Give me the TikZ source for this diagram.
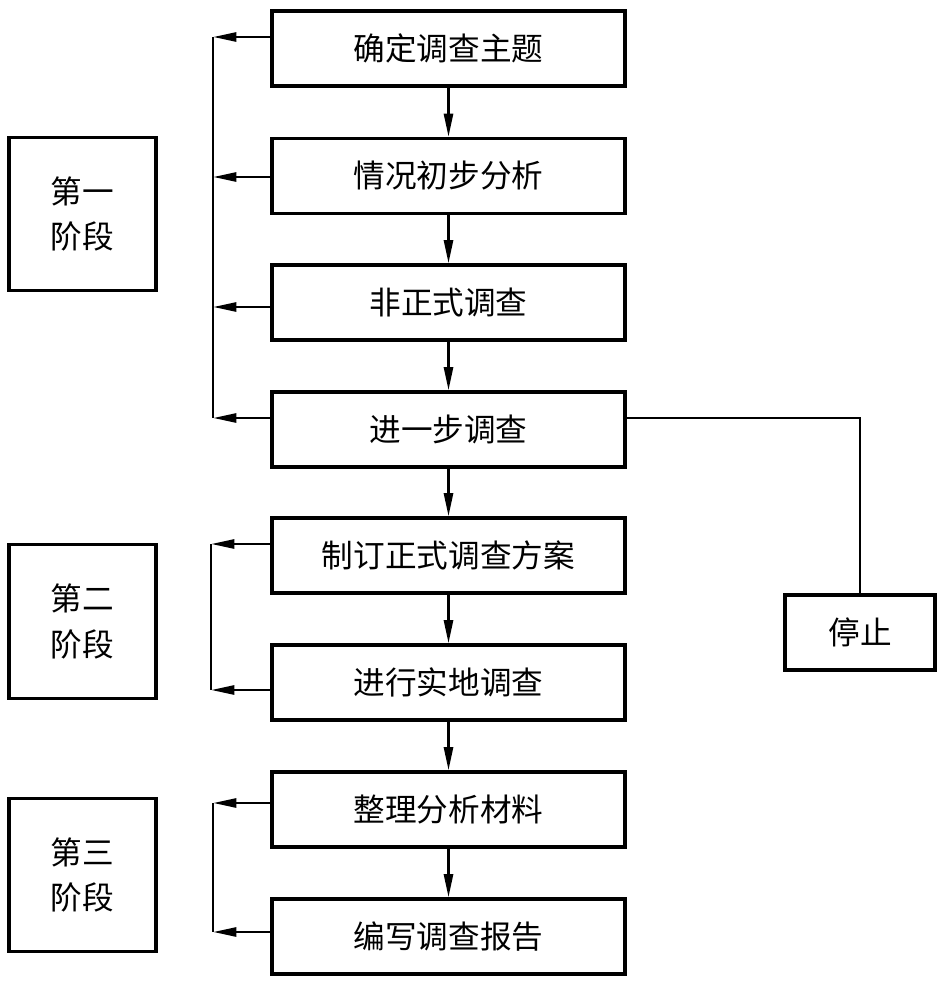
\documentclass[tikz,border=0pt]{standalone}
\usepackage{fontspec}
\setmainfont{Noto Sans CJK SC}
\usetikzlibrary{calc, positioning}
\usetikzlibrary{arrows.meta}

\tikzset{
  stepbox/.style={draw, line width=2.6pt, minimum width=10.59cm, minimum height=2.25cm,
    inner sep=0pt, font=\fontsize{27}{30}\selectfont},
  stagebox/.style={draw, line width=2.6pt, minimum width=4.41cm, minimum height=4.6cm,
    inner sep=0pt, align=center, font=\fontsize{27}{39}\selectfont},
  arr/.style={line width=2.3pt, -{Triangle[length=0.7cm, width=0.27cm]}},
  link/.style={line width=2.3pt}
}

\begin{document}
\begin{tikzpicture}[x=0.03cm, y=-0.03cm]
\useasboundingbox (0,0) rectangle (945,985);

% main steps
\node[stepbox] (theme)    at (448.5,48.5)  {确定调查主题};
\node[stepbox] (analysis) at (448.5,176)   {情况初步分析};
\node[stepbox] (informal) at (448.5,302.5) {非正式调查};
\node[stepbox] (further)  at (448.5,429.5) {进一步调查};
\node[stepbox] (plan)     at (448.5,555.5) {制订正式调查方案};
\node[stepbox] (field)    at (448.5,682.5) {进行实地调查};
\node[stepbox] (sort)     at (448.5,809.5) {整理分析材料};
\node[stepbox] (report)   at (448.5,936.5) {编写调查报告};

% stages
\node[stagebox] (stageA) at (82.5,214)   {第一\\阶段};
\node[stagebox] (stageB) at (82.5,621.5) {第二\\阶段};
\node[stagebox] (stageC) at (82.5,875)   {第三\\阶段};

\node[stepbox, minimum width=4.5cm] (stop) at (860,632.5) {停止};

% downward flow
\foreach \a/\b in {theme/analysis, analysis/informal, informal/further, further/plan,
                   plan/field, field/sort, sort/report}
  \draw[arr] (\a.south) -- (\b.north);

% left feedback lines
\coordinate (a1) at (213,37);
\coordinate (a2) at (213,177);
\coordinate (a3) at (213,307);
\coordinate (a4) at (213,418);
\coordinate (b1) at (211,544);
\coordinate (b2) at (211,690);
\coordinate (c1) at (213,803);
\coordinate (c2) at (213,932);

\draw[link] (a1) -- (a4);
\draw[link] (b1) -- (b2);
\draw[link] (c1) -- (c2);

\draw[arr] (theme.west |- a1)    -- (a1);
\draw[arr] (analysis.west |- a2) -- (a2);
\draw[arr] (informal.west |- a3) -- (a3);
\draw[arr] (further.west |- a4)  -- (a4);
\draw[arr] (plan.west |- b1)     -- (b1);
\draw[arr] (field.west |- b2)    -- (b2);
\draw[arr] (sort.west |- c1)     -- (c1);
\draw[arr] (report.west |- c2)   -- (c2);

% to stop
\draw[link] (further.east |- a4) -| (stop.north);
\end{tikzpicture}
\end{document}
